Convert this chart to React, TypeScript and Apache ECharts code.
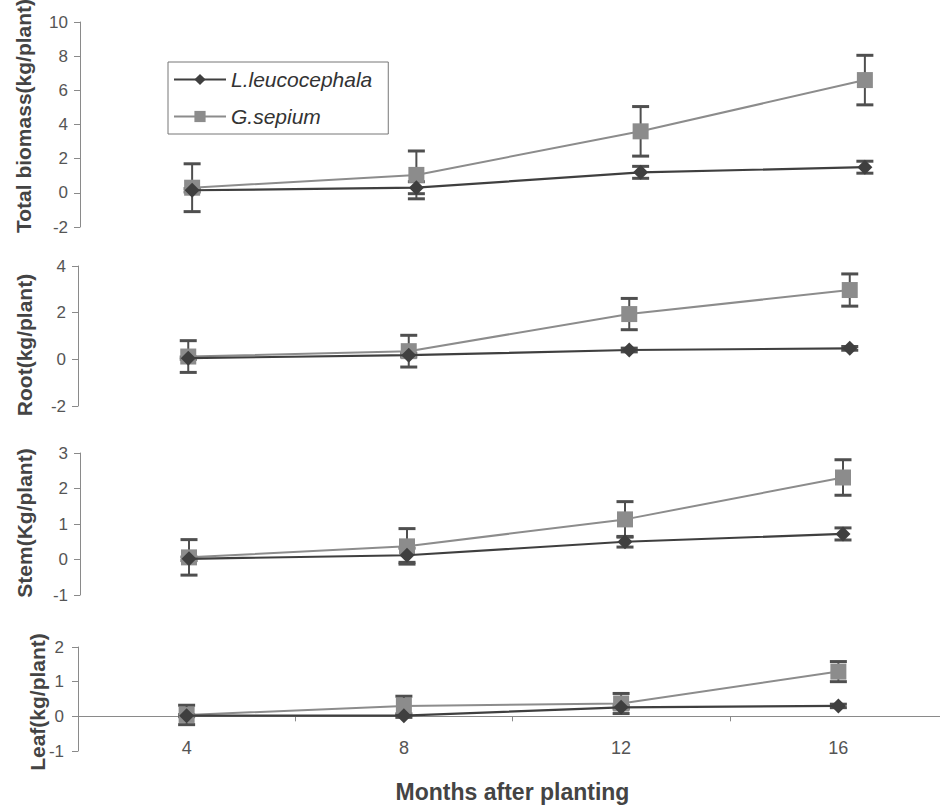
import React, { useEffect, useRef } from 'react';
import * as echarts from 'echarts';

const months = ['4', '8', '12', '16'];

const totalL = [0.15, 0.3, 1.2, 1.5];
const totalLErr = [0.1, 0.35, 0.35, 0.35];
const totalG = [0.3, 1.05, 3.6, 6.6];
const totalGErr = [1.4, 1.4, 1.45, 1.45];

const rootL = [0.05, 0.18, 0.4, 0.47];
const rootLErr = [0.05, 0.08, 0.08, 0.08];
const rootG = [0.12, 0.35, 1.94, 2.97];
const rootGErr = [0.68, 0.68, 0.67, 0.69];

const stemL = [0.02, 0.12, 0.5, 0.72];
const stemLErr = [0.05, 0.2, 0.15, 0.17];
const stemG = [0.06, 0.37, 1.13, 2.31];
const stemGErr = [0.5, 0.5, 0.5, 0.5];

const leafL = [0.02, 0.02, 0.26, 0.3];
const leafLErr = [0.03, 0.05, 0.05, 0.05];
const leafG = [0.04, 0.3, 0.37, 1.29];
const leafGErr = [0.28, 0.28, 0.29, 0.29];

const yNames = ['Total biomass(kg/plant)', 'Root(kg/plant)', 'Stem(Kg/plant)', 'Leaf(kg/plant)'];
const yMins = [-2, -2, -1, -1];
const yMaxs = [10, 4, 3, 2];
const yIntervals = [2, 2, 1, 1];
const xName = 'Months after planting';
const nameL = 'L.leucocephala';
const nameG = 'G.sepium';

const panelData = [
  { L: totalL, LErr: totalLErr, G: totalG, GErr: totalGErr },
  { L: rootL, LErr: rootLErr, G: rootG, GErr: rootGErr },
  { L: stemL, LErr: stemLErr, G: stemG, GErr: stemGErr },
  { L: leafL, LErr: leafLErr, G: leafG, GErr: leafGErr },
];

const gridBoxes = [
  { left: 80, top: 22, width: 897, height: 205 },
  { left: 78, top: 266, width: 882, height: 140 },
  { left: 80, top: 453, width: 872, height: 142 },
  { left: 78, top: 647, width: 869, height: 104 },
];
const namePos = [
  [23, 116],
  [24, 345],
  [24, 523],
  [37, 702],
];

const FONT = '"Liberation Sans", Arial, Helvetica, sans-serif';
const AXIS_COLOR = '#8a8a8a';
const L_COLOR = '#3f3f3f';
const G_COLOR = '#8c8c8c';
const ERR_COLOR = '#4f4f4f';

function errRender(params: any, api: any) {
  const x = api.value(0);
  const lo = api.coord([x, api.value(1)]);
  const hi = api.coord([x, api.value(2)]);
  const w = 8.5;
  const style = { stroke: ERR_COLOR, lineWidth: 2 };
  const cap = { stroke: ERR_COLOR, lineWidth: 3 };
  return {
    type: 'group',
    children: [
      { type: 'line', shape: { x1: lo[0], y1: lo[1], x2: hi[0], y2: hi[1] }, style },
      { type: 'line', shape: { x1: lo[0] - w, y1: lo[1], x2: lo[0] + w, y2: lo[1] }, style: cap },
      { type: 'line', shape: { x1: hi[0] - w, y1: hi[1], x2: hi[0] + w, y2: hi[1] }, style: cap },
    ],
  };
}

export default function App() {
  const ref = useRef<HTMLDivElement>(null);
  useEffect(() => {
    if (!ref.current) return;
    const chart = echarts.init(ref.current, undefined, { renderer: 'svg' });
    const grid = gridBoxes.map((g) => ({ ...g, containLabel: false, outerBoundsMode: 'none' }));
    const xAxis = gridBoxes.map((_, i) => {
      const last = i === gridBoxes.length - 1;
      return {
        gridIndex: i,
        type: 'category',
        data: months,
        show: last,
        boundaryGap: true,
        axisLine: { show: true, onZero: true, lineStyle: { color: AXIS_COLOR, width: 1 } },
        axisTick: { show: true, length: 5, lineStyle: { color: AXIS_COLOR } },
        axisLabel: { color: '#555', fontSize: 18, fontFamily: FONT, margin: -12 },
        name: last ? xName : '',
        nameLocation: 'middle',
        nameGap: 29,
        nameTextStyle: { color: '#444', fontSize: 23, fontWeight: 'bold', fontFamily: FONT },
      };
    });
    const yAxis = gridBoxes.map((_, i) => ({
      gridIndex: i,
      type: 'value',
      min: yMins[i],
      max: yMaxs[i],
      interval: yIntervals[i],
      axisLine: { show: true, lineStyle: { color: AXIS_COLOR, width: 1 } },
      axisTick: { show: true, length: 6, lineStyle: { color: AXIS_COLOR } },
      axisLabel: { color: '#555', fontSize: 17, fontFamily: FONT, margin: i === 3 ? 14 : 12 },
      splitLine: { show: false },
    }));
    const series: any[] = [];
    panelData.forEach((p, i) => {
      series.push({
        type: 'custom',
        name: 'errL' + i,
        xAxisIndex: i,
        yAxisIndex: i,
        renderItem: errRender,
        encode: { x: 0, y: [1, 2] },
        data: months.map((_, k) => [k, p.L[k] - p.LErr[k], p.L[k] + p.LErr[k]]),
        z: 1,
      });
      series.push({
        type: 'custom',
        name: 'errG' + i,
        xAxisIndex: i,
        yAxisIndex: i,
        renderItem: errRender,
        encode: { x: 0, y: [1, 2] },
        data: months.map((_, k) => [k, p.G[k] - p.GErr[k], p.G[k] + p.GErr[k]]),
        z: 1,
      });
      series.push({
        type: 'line',
        name: nameG,
        xAxisIndex: i,
        yAxisIndex: i,
        data: p.G,
        symbol: 'rect',
        symbolSize: 16,
        itemStyle: { color: G_COLOR },
        lineStyle: { color: G_COLOR, width: 2 },
        z: 2,
      });
      series.push({
        type: 'line',
        name: nameL,
        xAxisIndex: i,
        yAxisIndex: i,
        data: p.L,
        symbol: 'diamond',
        symbolSize: 15,
        itemStyle: { color: L_COLOR },
        lineStyle: { color: L_COLOR, width: 2.2 },
        z: 3,
      });
    });
    const graphic = yNames.map((t, i) => ({
      type: 'text',
      x: namePos[i][0],
      y: namePos[i][1],
      rotation: Math.PI / 2,
      style: {
        text: t,
        fill: '#444',
        font: `bold 21px ${FONT}`,
        align: 'center',
        verticalAlign: 'middle',
      },
    }));
    chart.setOption({
      animation: false,
      backgroundColor: '#ffffff',
      grid,
      xAxis,
      yAxis,
      series,
      graphic,
      legend: {
        data: [nameL, nameG],
        orient: 'vertical',
        left: 168,
        top: 62,
        padding: [7, 16, 7, 5],
        itemGap: 16,
        itemWidth: 52,
        itemHeight: 14,
        borderColor: '#777',
        borderWidth: 1,
        borderRadius: 0,
        backgroundColor: '#fff',
        textStyle: { fontSize: 21, fontStyle: 'italic', color: '#333', fontFamily: FONT },
      },
    });
    return () => chart.dispose();
  }, []);
  return (
    <div
      ref={ref}
      style={{ position: 'absolute', left: 0, top: 0, width: 940, height: 806 }}
    />
  );
}
